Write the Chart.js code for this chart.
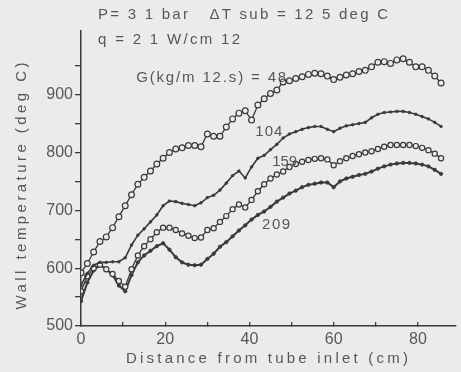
<!DOCTYPE html>
<html>
<head>
<meta charset="utf-8">
<script src="https://cdn.jsdelivr.net/npm/chart.js@4"></script>
<style>
    html, body { margin: 0; padding: 0; background: #ebebeb; }
    #wrap { width: 461px; height: 372px; }
</style>
</head>
<body>
<div id="wrap"><canvas id="wallTemp" width="461" height="372"></canvas></div>
<script>
// Distance from tube inlet (cm)
const distance = [0, 1.5, 3, 4.5, 6, 7.5, 9, 10.5, 12, 13.5, 15, 16.5, 18, 19.5, 21, 22.5, 24, 25.5, 27, 28.5,
    30, 31.5, 33, 34.5, 36, 37.5, 39, 40.5, 42, 43.5, 45, 46.5, 48, 49.5, 51, 52.5, 54, 55.5, 57, 58.5,
    60, 61.5, 63, 64.5, 66, 67.5, 69, 70.5, 72, 73.5, 75, 76.5, 78, 79.5, 81, 82.5, 84, 85.5];

// Wall temperature (deg C) for each mass flux G (kg/m2.s)
const temp48 = [592, 608, 628, 646, 654, 670, 689, 708, 727, 745, 757, 768, 780, 790, 800, 806, 808, 812, 812, 810,
    832, 828, 828, 844, 858, 868, 872, 856, 882, 893, 902, 908, 922, 924, 928, 931, 935, 937, 936, 932,
    926, 930, 934, 936, 940, 942, 948, 956, 957, 954, 960, 962, 956, 948, 948, 942, 932, 920];
const temp104 = [570, 591, 605, 610, 610, 611, 611, 618, 640, 657, 668, 680, 692, 708, 716, 715, 712, 710, 708, 713,
    722, 726, 735, 747, 760, 768, 756, 775, 790, 795, 805, 814, 825, 832, 836, 840, 843, 845, 845, 840,
    836, 842, 846, 848, 850, 852, 860, 866, 869, 870, 871, 871, 869, 866, 862, 858, 852, 845];
const temp159 = [560, 586, 600, 606, 598, 590, 578, 568, 598, 622, 638, 650, 662, 670, 670, 666, 660, 656, 652, 653,
    666, 669, 680, 690, 702, 710, 705, 718, 733, 745, 755, 762, 767, 775, 780, 784, 787, 789, 790, 788,
    778, 785, 790, 794, 797, 800, 802, 806, 810, 813, 813, 813, 813, 811, 808, 804, 798, 790];
const temp209 = [543, 575, 596, 606, 598, 588, 570, 560, 588, 610, 622, 630, 638, 643, 632, 619, 610, 606, 605, 606,
    616, 625, 637, 645, 655, 665, 674, 684, 692, 698, 706, 715, 722, 729, 734, 740, 744, 746, 748, 748,
    740, 750, 755, 758, 761, 763, 767, 772, 776, 779, 781, 782, 782, 781, 779, 776, 770, 763];

const INK = '#3a3a3a';
const TEXT = '#575757';
const PAPER = '#ebebeb';
const FONT = '"Liberation Sans", Arial, sans-serif';

const toPoints = (ys) => ys.map((y, i) => ({ x: distance[i], y: y }));

/**
 * Draws a string stretched to a given width with letter spacing
 * @param {CanvasRenderingContext2D} ctx
 * @param {string} text
 * @param {number} x - left edge (or centre if align is 'center')
 * @param {number} y - middle line
 * @param {number} width - target width in px
 */
function drawSpaced(ctx, text, x, y, width, align = 'left') {
    ctx.letterSpacing = '0px';
    const natural = ctx.measureText(text).width;
    const gap = Math.max(0, (width - natural) / (text.length - 1));
    ctx.letterSpacing = gap + 'px';
    ctx.textAlign = 'left';
    const start = align === 'center' ? x - width / 2 : x;
    ctx.fillText(text, start, y);
    ctx.letterSpacing = '0px';
}

// Header, curve labels and axis titles
const annotations = {
    id: 'annotations',
    afterDraw(chart) {
        const ctx = chart.ctx;
        const xs = chart.scales.x;
        const ys = chart.scales.y;
        ctx.save();
        ctx.fillStyle = TEXT;
        ctx.textBaseline = 'middle';
        ctx.font = '15px ' + FONT;

        drawSpaced(ctx, 'P= 3 1 bar   ΔT sub = 12 5 deg C', 98, 15, 290);
        drawSpaced(ctx, 'q = 2 1 W/cm 12', 98, 40, 142);

        const curveLabels = [
            { text: 'G(kg/m 12.s) = 48', x: 13.1, y: 929, w: 150 },
            { text: '104', x: 41.4, y: 836, w: 27 },
            { text: '159', x: 45.4, y: 784, w: 25 },
            { text: '209', x: 43.0, y: 675, w: 28 }
        ];
        curveLabels.forEach(l => {
            drawSpaced(ctx, l.text, xs.getPixelForValue(l.x), ys.getPixelForValue(l.y), l.w);
        });

        // axis titles
        drawSpaced(ctx, 'Distance from tube inlet (cm)', 267, 359, 282, 'center');
        ctx.translate(22, 186);
        ctx.rotate(-Math.PI / 2);
        drawSpaced(ctx, 'Wall temperature (deg C)', 0, 0, 247, 'center');
        ctx.restore();
    }
};

const ctx = document.getElementById('wallTemp').getContext('2d');

const openCircles = {
    pointStyle: 'circle',
    pointRadius: 2.9,
    pointBorderWidth: 1.2,
    pointBackgroundColor: PAPER,
    pointBorderColor: INK
};
const smallDots = {
    pointStyle: 'circle',
    pointRadius: 1.3,
    pointBorderWidth: 0.8,
    pointBackgroundColor: INK,
    pointBorderColor: INK
};

new Chart(ctx, {
    type: 'line',
    data: {
        datasets: [
            { label: '48', data: toPoints(temp48), borderColor: INK, borderWidth: 1.3, ...openCircles },
            { label: '104', data: toPoints(temp104), borderColor: INK, borderWidth: 1.6, ...smallDots },
            { label: '159', data: toPoints(temp159), borderColor: INK, borderWidth: 1.3, ...openCircles, pointRadius: 2.6 },
            { label: '209', data: toPoints(temp209), borderColor: INK, borderWidth: 2, ...smallDots, pointRadius: 1.7 }
        ]
    },
    options: {
        responsive: false,
        animation: false,
        layout: { padding: { top: 31, left: 0, right: 0, bottom: 0 } },
        plugins: {
            legend: { display: false },
            tooltip: { enabled: false }
        },
        scales: {
            x: {
                type: 'linear',
                min: 0,
                max: 89,
                afterFit: (scale) => { scale.height = 46; },
                afterBuildTicks: (scale) => {
                    scale.ticks = scale.ticks.filter(t => t.value % 10 === 0);
                },
                border: { display: true, color: INK, width: 1.5 },
                grid: { drawOnChartArea: false, color: INK, tickLength: -4, lineWidth: 1.3 },
                ticks: {
                    stepSize: 10,
                    padding: 8,
                    color: TEXT,
                    font: { family: FONT, size: 16 },
                    maxRotation: 0,
                    callback: (v) => (v % 20 === 0 ? v : '')
                }
            },
            y: {
                min: 500,
                max: 1010,
                afterFit: (scale) => { scale.width = 81; },
                afterBuildTicks: (scale) => {
                    scale.ticks = scale.ticks.filter(t => t.value % 50 === 0 && t.value <= 1000);
                },
                border: { display: true, color: INK, width: 1.5 },
                grid: { drawOnChartArea: false, color: INK, tickLength: 6, lineWidth: 1.3 },
                ticks: {
                    stepSize: 50,
                    padding: 2,
                    color: TEXT,
                    font: { family: FONT, size: 16 },
                    callback: (v) => (v % 100 === 0 ? v : '')
                }
            }
        }
    },
    plugins: [annotations]
});
</script>
</body>
</html>
